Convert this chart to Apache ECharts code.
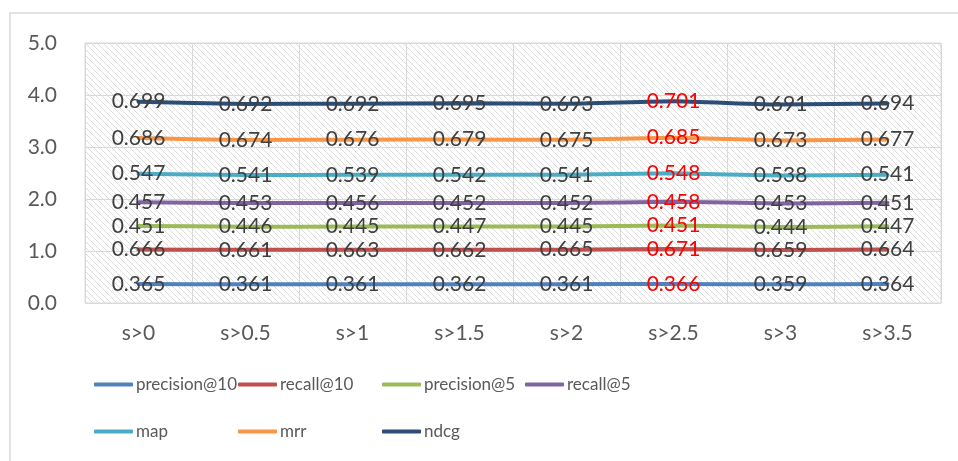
<!DOCTYPE html>
<html>
<head>
<meta charset="utf-8">
<script src="https://cdn.jsdelivr.net/npm/echarts@6/dist/echarts.min.js"></script>
<style>html,body{margin:0;padding:0;background:#fff}#c{width:958px;height:461px}</style>
</head>
<body>
<div id="c"></div>
<script>
const categories = ['s>0','s>0.5','s>1','s>1.5','s>2','s>2.5','s>3','s>3.5'];
const seriesNames = ['precision@10','recall@10','precision@5','recall@5','map','mrr','ndcg'];
const precision10 = [0.365,0.361,0.361,0.362,0.361,0.366,0.359,0.364];
const recall10    = [0.666,0.661,0.663,0.662,0.665,0.671,0.659,0.664];
const precision5  = [0.451,0.446,0.445,0.447,0.445,0.451,0.444,0.447];
const recall5     = [0.457,0.453,0.456,0.452,0.452,0.458,0.453,0.451];
const mapVals     = [0.547,0.541,0.539,0.542,0.541,0.548,0.538,0.541];
const mrrVals     = [0.686,0.674,0.676,0.679,0.675,0.685,0.673,0.677];
const ndcgVals    = [0.699,0.692,0.692,0.695,0.693,0.701,0.691,0.694];
const highlightIndex = 5;
const yTicks = [0,1,2,3,4,5];

const allData = [precision10,recall10,precision5,recall5,mapVals,mrrVals,ndcgVals];
const colors = ['#4F81BD','#C0504D','#9BBB59','#8064A2','#4BACC6','#F79646','#2C4D75'];

// hatch pattern
const pc = document.createElement('canvas');
pc.width = 6; pc.height = 6;
const px = pc.getContext('2d');
px.fillStyle = '#ffffff'; px.fillRect(0,0,6,6);
px.strokeStyle = '#dcdcdc'; px.lineWidth = 1;
px.beginPath();
px.moveTo(-1,-1); px.lineTo(7,7);
px.moveTo(-1,5); px.lineTo(1,7);
px.moveTo(5,-1); px.lineTo(7,1);
px.stroke();

const FONT = 'Lato, "Open Sans", sans-serif';

const chart = echarts.init(document.getElementById('c'));
const series = seriesNames.map((n,i)=>({
  name: n,
  type: 'line',
  stack: 'total',
  data: allData[i].map((v,j)=> j===highlightIndex
    ? {value: v, label: {color:'#FF0000'}}
    : {value: v}),
  symbol: 'circle',
  symbolSize: 0,
  showSymbol: true,
  smooth: 0.15,
  lineStyle: {width: 4, color: colors[i], cap: 'round'},
  itemStyle: {color: colors[i]},
  label: {
    show: true,
    position: 'inside',
    offset: [0, 2],
    formatter: p => p.value.toFixed(3),
    color: '#404040',
    fontSize: 21,
    fontFamily: FONT
  },
  labelLayout: {hideOverlap: false},
  z: 2
}));

const legendPos = [[94,386],[238,386],[382,386],[525,386],[94,433],[238,433],[382,433]];
const legends = seriesNames.map((n,i)=>({
  data: [n],
  left: legendPos[i][0], top: legendPos[i][1] - 10,
  icon: 'roundRect', itemWidth: 39, itemHeight: 4, itemGap: 4,
  padding: 0,
  textStyle: {fontSize: 17, color: '#595959', fontFamily: FONT, padding: [0,0,0,-2]}
}));

chart.setOption({
  animation: false,
  backgroundColor: '#ffffff',
  graphic: [{
    type: 'rect', shape: {x: 10, y: 13, width: 960, height: 470},
    style: {fill: 'none', stroke: '#d9d9d9', lineWidth: 1.5}, silent: true, z: -10
  }],
  grid: {
    left: 85, right: 17, top: 43, bottom: 158,
    show: true,
    backgroundColor: {image: pc, repeat: 'repeat'},
    borderColor: '#d9d9d9', borderWidth: 1
  },
  legend: legends,
  xAxis: {
    type: 'category',
    data: categories,
    boundaryGap: true,
    axisLine: {show: false},
    axisTick: {show: false},
    splitLine: {show: true, interval: 0, lineStyle: {color: '#d9d9d9'}},
    axisLabel: {fontSize: 21, color: '#595959', fontFamily: FONT, margin: 20}
  },
  yAxis: {
    type: 'value',
    min: yTicks[0], max: yTicks[yTicks.length-1], interval: 1,
    axisLine: {show: false},
    axisTick: {show: false},
    splitLine: {lineStyle: {color: '#d9d9d9'}},
    axisLabel: {fontSize: 21, color: '#595959', fontFamily: FONT, margin: 28, formatter: v => v.toFixed(1)}
  },
  series: series
});
</script>
</body>
</html>
